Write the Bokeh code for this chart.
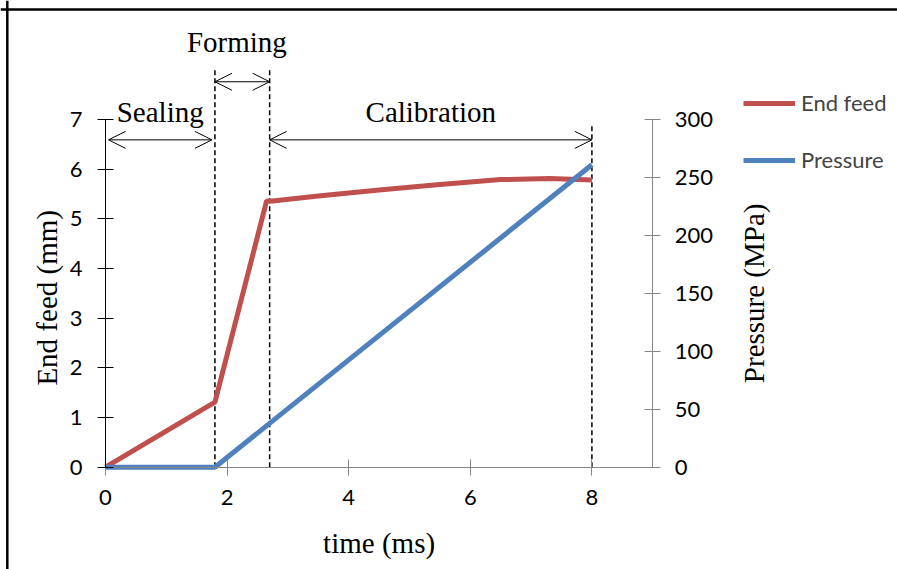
import math
from bokeh.plotting import figure
from bokeh.models import (Range1d, LinearAxis, FixedTicker, Legend, LegendItem,
                          Arrow, OpenHead, Span)
from bokeh.core.properties import value
from bokeh.embed import file_html
from bokeh.resources import INLINE

# ---- data ----
end_feed_t = [0.0, 1.8, 2.65, 2.75, 3.5, 4.5, 5.5, 6.5, 7.3, 8.0]
end_feed_mm = [0.0, 1.31, 5.36, 5.36, 5.46, 5.58, 5.69, 5.79, 5.81, 5.78]
pressure_t = [0.0, 1.8, 8.0]
pressure_mpa = [0.0, 0.0, 261.0]
phase_bounds = [0.0, 1.8, 2.7, 8.0]
phase_names = ["Sealing", "Forming", "Calibration"]
x_ticks = [0, 2, 4, 6, 8]
left_ticks = [0, 1, 2, 3, 4, 5, 6, 7]
right_ticks = [0, 50, 100, 150, 200, 250, 300]

RED = "#C0504D"
BLUE = "#4F81BD"
GRAY = "#868686"
SERIF = "Liberation Serif"
SANS = "Lato"

# ---- layout geometry (page pixels) ----
CW, CH = 897, 569
X0_PX, X_PER = 105.0, 60.8      # page x of t=0, pixels per ms
Y0_PX, Y_PER = 466.7, 49.67     # page y of 0 mm, pixels per mm
x_start = -X0_PX / X_PER
x_end = (CW - X0_PX) / X_PER
y_end = Y0_PX / Y_PER
y_start = (Y0_PX - CH) / Y_PER
P_PER_MM = 300 / 7


def px_x(v):
    return (v - X0_PX) / X_PER


def px_y(v):
    return (Y0_PX - v) / Y_PER


p = figure(width=CW, height=CH, output_backend="svg", toolbar_location=None,
           x_range=Range1d(x_start, x_end), y_range=Range1d(y_start, y_end),
           min_border=0, x_axis_type=None, y_axis_type=None)
p.title.visible = False
p.extra_y_ranges = {"p": Range1d(y_start * P_PER_MM, y_end * P_PER_MM)}
p.xgrid.visible = False
p.ygrid.visible = False
p.outline_line_color = None
p.background_fill_color = "white"
p.border_fill_color = "white"

# outer frame of the picture: only its left and top edges are inside the page
p.add_layout(Span(location=px_x(6.8), dimension="height", line_color="black",
                  line_width=2.5))
p.add_layout(Span(location=px_y(9), dimension="width", line_color="black",
                  line_width=2.5))


def style_axis(ax, color, tick_standoff):
    ax.axis_line_color = color
    ax.major_tick_line_color = color
    ax.minor_tick_line_color = None
    ax.major_tick_in = 8
    ax.major_tick_out = 8
    ax.major_label_text_font = SANS
    ax.major_label_text_font_size = "22px"
    ax.major_label_text_color = "#000000"
    ax.major_label_standoff = tick_standoff


xax = LinearAxis(ticker=FixedTicker(ticks=x_ticks), bounds=(0, 9), fixed_location=0)
style_axis(xax, GRAY, 15)
p.add_layout(xax, "below")

lax = LinearAxis(ticker=FixedTicker(ticks=left_ticks), bounds=(0, 7), fixed_location=0)
style_axis(lax, "#000000", 15)
p.add_layout(lax, "left")

rax = LinearAxis(y_range_name="p", ticker=FixedTicker(ticks=right_ticks), bounds=(0, 300),
                 fixed_location=9)
style_axis(rax, GRAY, 14)
p.add_layout(rax, "right")

# axis titles
p.text(x=[-0.962, 10.66], y=[3.41, 3.50], text=["End feed (mm)", "Pressure (MPa)"],
       angle=math.pi / 2, text_font=value(SERIF), text_font_size="29px",
       text_align="center", text_baseline="middle", text_color="black")
p.text(x=[4.5], y=[-1.52], text=["time (ms)"], text_font=value(SERIF),
       text_font_size="29px", text_align="center", text_baseline="middle",
       text_color="black")

# dashed phase boundaries
dash_tops = [8.04, 8.04, 6.89]
p.segment(x0=phase_bounds[1:], y0=[0] * 3, x1=phase_bounds[1:], y1=dash_tops,
          line_color="black", line_width=1.5, line_dash="5 3")

# data lines
r_feed = p.line(end_feed_t, end_feed_mm, line_color=RED, line_width=5)
r_pres = p.line(pressure_t, pressure_mpa, y_range_name="p", line_color=BLUE, line_width=5)

# phase arrows and labels
arrow_y = [6.59, 7.76, 6.59]
insets = [0.05, 0.0, 0.0]
for i in range(3):
    a = Arrow(start=OpenHead(size=17, line_width=1, line_color="black"),
              end=OpenHead(size=17, line_width=1, line_color="black"),
              x_start=phase_bounds[i] + insets[i], x_end=phase_bounds[i + 1] - insets[i],
              y_start=arrow_y[i], y_end=arrow_y[i], line_width=1, line_color="black")
    p.add_layout(a)

label_x = [(phase_bounds[i] + phase_bounds[i + 1]) / 2 for i in range(3)]
label_x[1] -= 0.09
label_y = [7.15, 8.57, 7.15]
p.text(x=label_x, y=label_y, text=phase_names, text_font=value(SERIF),
       text_font_size="29px", text_align="center", text_baseline="alphabetic",
       text_color="black")

# legend: location is measured from the frame's bottom-left corner
leg_left_px, leg_bottom_px = 743, 173
legend = Legend(items=[LegendItem(label="End feed", renderers=[r_feed]),
                       LegendItem(label="Pressure", renderers=[r_pres])],
                location=(leg_left_px, CH - leg_bottom_px),
                padding=0, margin=0, spacing=30,
                glyph_width=52, glyph_height=24, label_height=24,
                label_standoff=6, label_text_font=SANS, label_text_font_size="22px",
                border_line_alpha=0, background_fill_alpha=0)
p.add_layout(legend, "center")

open("out.html", "w").write(file_html(p, INLINE))
